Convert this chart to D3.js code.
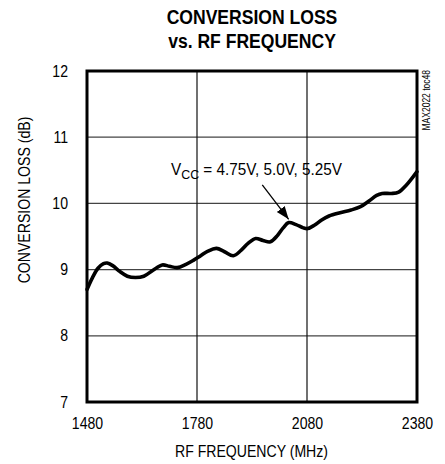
<!DOCTYPE html>
<html>
<head>
<meta charset="utf-8">
<script src="https://cdn.jsdelivr.net/npm/d3@7"></script>
<style>
  html, body { margin: 0; padding: 0; background: #fff; }
  svg text { font-family: "Liberation Sans", Arial, sans-serif; fill: #000; }
</style>
</head>
<body>
<svg id="chart" width="445" height="464"></svg>
<script>
// Conversion loss (dB) measured across RF frequency (MHz)
const freqMHz = [1480, 1495, 1510, 1525, 1535, 1550, 1570, 1590, 1612, 1635, 1660, 1685, 1705, 1726,
  1750, 1770, 1790, 1810, 1833, 1855, 1879, 1900, 1920, 1940, 1960, 1980, 2000, 2015, 2030, 2050,
  2070, 2082, 2100, 2120, 2140, 2170, 2200, 2226, 2250, 2270, 2285, 2310, 2330, 2350, 2365, 2380];
const lossDb = [8.70, 8.88, 9.02, 9.09, 9.10, 9.06, 8.97, 8.90, 8.88, 8.90, 8.99, 9.07, 9.05, 9.03,
  9.08, 9.14, 9.21, 9.28, 9.32, 9.27, 9.21, 9.29, 9.40, 9.47, 9.44, 9.42, 9.52, 9.63, 9.71, 9.68,
  9.63, 9.62, 9.67, 9.75, 9.81, 9.86, 9.90, 9.95, 10.04, 10.12, 10.15, 10.15, 10.17, 10.27, 10.37, 10.48];

const xTicks = [1480, 1780, 2080, 2380];
const yTicks = [7, 8, 9, 10, 11, 12];
const titleLines = ["CONVERSION LOSS", "vs. RF FREQUENCY"];

const svg = d3.select("#chart");
const m = { left: 87, right: 417, top: 71, bottom: 402 };

const x = d3.scaleLinear().domain([1480, 2380]).range([m.left, m.right]);
const y = d3.scaleLinear().domain([7, 12]).range([m.bottom, m.top]);

// Narrow the glyphs horizontally to get a condensed face
function condense(sel, k) {
  sel.each(function () {
    const w = this.getComputedTextLength();
    d3.select(this).attr("textLength", w * k).attr("lengthAdjust", "spacingAndGlyphs");
  });
}

// Title
const title = svg.append("g").style("font-weight", "bold").style("font-size", "19.5px");
title.selectAll("text").data(titleLines).join("text")
  .attr("x", 252).attr("y", (d, i) => 24 + i * 24).attr("text-anchor", "middle")
  .text(d => d)
  .call(condense, 0.9);

// Grid lines
const grid = svg.append("g");
grid.selectAll("line.h").data(yTicks.slice(1, -1)).join("line")
  .attr("x1", m.left).attr("x2", m.right)
  .attr("y1", d => y(d)).attr("y2", d => y(d))
  .attr("stroke", "#444").attr("stroke-width", 1.2);
grid.selectAll("line.v").data(xTicks.slice(1, -1)).join("line")
  .attr("y1", m.top).attr("y2", m.bottom)
  .attr("x1", d => x(d)).attr("x2", d => x(d))
  .attr("stroke", "#111").attr("stroke-width", 1.2);

// Axes (labels only, frame drawn separately)
const xAxis = svg.append("g").attr("transform", `translate(0,${m.bottom})`)
  .call(d3.axisBottom(x).tickValues(xTicks).tickFormat(d3.format("d")).tickSize(0).tickPadding(16));
const yAxis = svg.append("g").attr("transform", `translate(${m.left},0)`)
  .call(d3.axisLeft(y).tickValues(yTicks).tickFormat(d3.format("d")).tickSize(0).tickPadding(19));
[xAxis, yAxis].forEach(a => {
  a.select(".domain").remove();
  a.selectAll("text").style("font-size", "16px")
    .style("font-family", '"Liberation Sans", Arial, sans-serif')
    .call(condense, 0.88);
});

// Frame
svg.append("rect")
  .attr("x", m.left).attr("y", m.top)
  .attr("width", m.right - m.left).attr("height", m.bottom - m.top)
  .attr("fill", "none").attr("stroke", "#000").attr("stroke-width", 3);

// Data curve
const line = d3.line().x((d, i) => x(freqMHz[i])).y(d => y(d)).curve(d3.curveCatmullRom.alpha(0.5));
svg.append("path").datum(lossDb)
  .attr("d", line)
  .attr("fill", "none").attr("stroke", "#000").attr("stroke-width", 3.6)
  .attr("stroke-linejoin", "round").attr("stroke-linecap", "round");

// Supply-voltage annotation with arrow
const note = svg.append("text").attr("x", 171).attr("y", 175).style("font-size", "16px");
note.append("tspan").text("V");
note.append("tspan").attr("dy", 4).style("font-size", "13px").text("CC");
note.append("tspan").attr("dy", -4).text(" = 4.75V, 5.0V, 5.25V");
note.attr("textLength", 171).attr("lengthAdjust", "spacingAndGlyphs");

svg.append("defs").append("marker")
  .attr("id", "arrowhead").attr("viewBox", "0 0 10 10")
  .attr("refX", 10).attr("refY", 5)
  .attr("markerWidth", 13).attr("markerHeight", 13).attr("markerUnits", "userSpaceOnUse")
  .attr("orient", "auto")
  .append("path").attr("d", "M0,1.2 L10,5 L0,8.8 Z").attr("fill", "#000");
svg.append("line")
  .attr("x1", x(1958)).attr("y1", y(10.28))
  .attr("x2", x(2030)).attr("y2", y(9.76))
  .attr("stroke", "#000").attr("stroke-width", 1.3)
  .attr("marker-end", "url(#arrowhead)");

// Axis titles
svg.append("text")
  .attr("x", 251.5).attr("y", 457).attr("text-anchor", "middle")
  .style("font-size", "16px").text("RF FREQUENCY (MHz)")
  .call(condense, 0.88);
svg.append("text")
  .attr("transform", "translate(30,200) rotate(-90)").attr("text-anchor", "middle")
  .style("font-size", "16px").text("CONVERSION LOSS (dB)")
  .call(condense, 0.88);

// Figure tag
svg.append("text")
  .attr("transform", "translate(430,70) rotate(-90)").attr("text-anchor", "end")
  .style("font-size", "10px").text("MAX2022 toc48")
  .call(condense, 0.85);
</script>
</body>
</html>
